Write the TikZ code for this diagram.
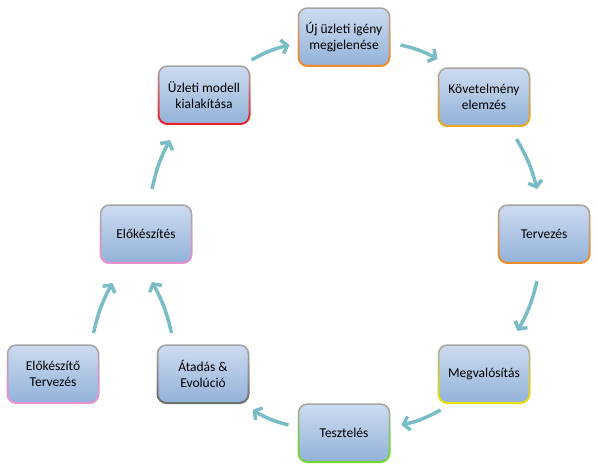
\documentclass[tikz,border=0pt]{standalone}
\usepackage{fontspec}
\setmainfont{Carlito}
\usepackage{tikz}
\usetikzlibrary{arrows.meta, calc, fadings}

\definecolor{flowteal}{RGB}{122,188,197}
\definecolor{boxtop}{RGB}{205,219,240}
\definecolor{boxbot}{RGB}{146,178,217}
\definecolor{rimorange}{RGB}{245,140,40}
\definecolor{rimgold}{RGB}{240,168,30}
\definecolor{rimyellow}{RGB}{238,228,0}
\definecolor{rimgreen}{RGB}{110,222,40}
\definecolor{rimgray}{RGB}{110,110,110}
\definecolor{rimpink}{RGB}{236,145,212}
\definecolor{rimred}{RGB}{236,30,40}

\tikzfading[name=fadeup, top color=transparent!100, middle color=transparent!65, bottom color=transparent!0]

\begin{document}
\begin{tikzpicture}[x=1pt, y=-1pt,
    stage/.style={rectangle, rounded corners=9pt, draw=gray!70, line width=1.5pt, outer sep=0pt, top color=boxtop, bottom color=boxbot, minimum width=91pt, minimum height=58pt, align=center, font=\fontsize{13.5}{15.5}\selectfont},
    rim/.style={postaction={draw=#1, line width=2pt, path fading=fadeup}},
    flow/.style={-{Straight Barb[length=5.5pt, width=14pt]}, line width=3.5pt, draw=flowteal, bend left=8}
]
\useasboundingbox (0,0) rectangle (597,474);

\node (uj) at (344,37) [stage, rim=rimorange] {Új üzleti igény\\megjelenése};
\node (kov) at (484,97) [stage, rim=rimgold] {Követelmény\\elemzés};
\node (terv) at (544,234) [stage, rim=rimorange] {Tervezés};
\node (megv) at (484,374) [stage, rim=rimyellow] {Megvalósítás};
\node (teszt) at (344,433) [stage, rim=rimgreen] {Tesztelés};
\node (atad) at (203,374) [stage, rim=rimgray] {Átadás \&\\Evolúció};
\node (elotv) at (53,374) [stage, rim=rimpink] {Előkészítő\\Tervezés};
\node (elok) at (146,234) [stage, rim=rimpink] {Előkészítés};
\node (uzm) at (204,95) [stage, rim=rimred] {Üzleti modell\\kialakítása};

\draw[flow] ($(uzm.east)+(2,-35)$) to ($(uj.west)+(-9,8)$);
\draw[flow] ($(uj.east)+(11,8)$) to ($(kov.north west)+(-1,-9)$);
\draw[flow] ($(kov.south east)+(-13,13)$) to ($(terv.north)+(-7,-16)$);
\draw[flow] ($(terv.south)+(-7,18)$) to ($(megv.north east)+(-12,-14)$);
\draw[flow] ($(megv.south west)+(2,7)$) to ($(teszt.east)+(12,-8)$);
\draw[flow] ($(teszt.west)+(-10,-8)$) to ($(atad.south east)+(4,7)$);
\draw[flow, bend right=8] ($(atad.north west)+(14,-12)$) to ($(elok.south)+(6,19)$);
\draw[flow] ($(elotv.north east)+(-5,-12)$) to ($(elok.south west)+(12,20)$);
\draw[flow] ($(elok.north)+(6,-16)$) to ($(uzm.south)+(-34,16)$);
\end{tikzpicture}
\end{document}
